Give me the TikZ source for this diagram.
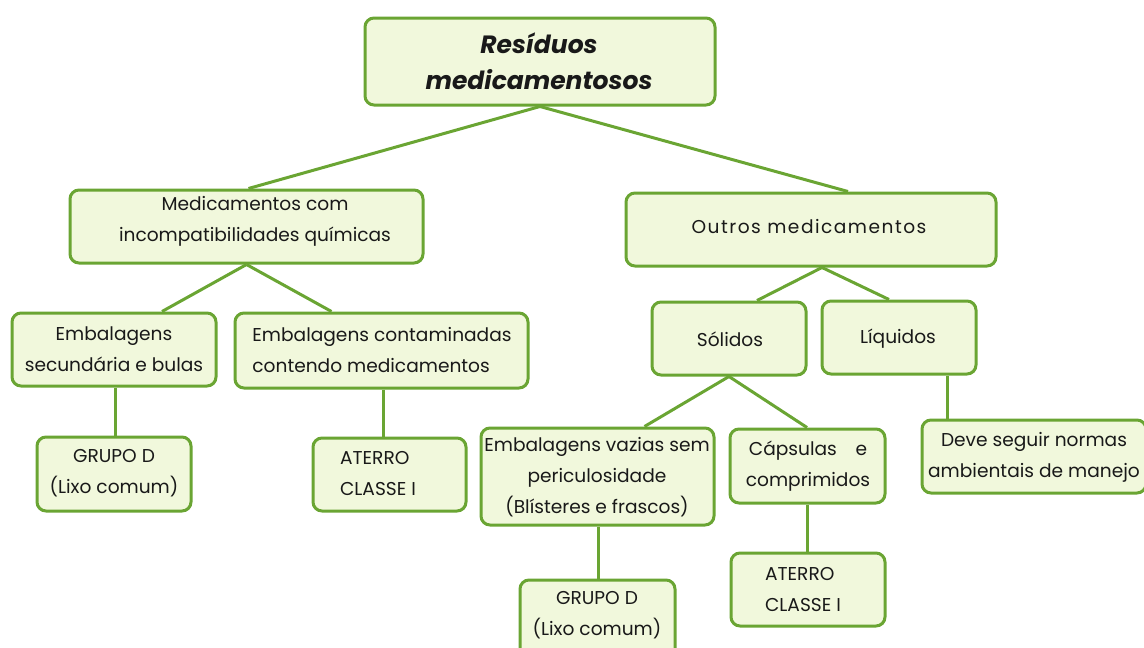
\documentclass[tikz,border=0pt]{standalone}
\usepackage{fontspec}
\setmainfont{Poppins}
\definecolor{boxfill}{HTML}{F1F8DC}
\definecolor{boxline}{HTML}{6AA533}
\begin{document}
\begin{tikzpicture}[x=1pt,y=-1pt,
  box/.style={draw=boxline, fill=boxfill, line width=3pt, rounded corners=9pt, inner sep=0pt},
  txt/.style={font=\fontsize{18.6}{31}\selectfont, align=center, text=black!90, inner sep=0pt},
  conn/.style={draw=boxline, line width=3pt}]
\useasboundingbox (0,0) rectangle (1144,648);
% boxes
\node[box, minimum width=350pt, minimum height=87pt] (root) at (540,61.5) {};
\node[box, minimum width=353pt, minimum height=73pt] (mci) at (246.5,226.5) {};
\node[box, minimum width=370pt, minimum height=73pt] (out) at (811,229.5) {};
\node[box, minimum width=204pt, minimum height=73pt] (esb) at (114,349.5) {};
\node[box, minimum width=293pt, minimum height=75pt] (ecm) at (381.5,350.5) {};
\node[box, minimum width=154pt, minimum height=73pt] (sol) at (729,338.5) {};
\node[box, minimum width=154pt, minimum height=73pt] (liq) at (899,337.5) {};
\node[box, minimum width=154pt, minimum height=74pt] (gd1) at (114,474) {};
\node[box, minimum width=153pt, minimum height=73pt] (at1) at (389.5,474.5) {};
\node[box, minimum width=233pt, minimum height=97pt] (evz) at (597.5,476.5) {};
\node[box, minimum width=155pt, minimum height=74pt] (cap) at (807.5,466) {};
\node[box, minimum width=224pt, minimum height=73pt] (dev) at (1034,456.5) {};
\node[box, minimum width=155pt, minimum height=80pt] (gd2) at (597.5,620) {};
\node[box, minimum width=154pt, minimum height=73pt] (at2) at (808,589.5) {};
% texts
\node[txt, font=\fontsize{25}{36}\selectfont\bfseries\itshape] at (539,61) {Resíduos\\medicamentosos};
\node[txt] at (255,221) {Medicamentos com\\incompatibilidades químicas};
\node[txt, font=\fontsize{18.6}{31}\selectfont\addfontfeatures{LetterSpace=8}] at (809,227) {Outros medicamentos};
\node[txt] at (114,349) {Embalagens\\secundária e bulas};
\node[txt, align=left] at (382,350) {Embalagens contaminadas\\contendo medicamentos};
\node[txt] at (730,339) {Sólidos};
\node[txt] at (898,339) {Líquidos};
\node[txt] at (114,473) {GRUPO D\\(Lixo comum)};
\node[txt, align=left] at (378,474) {ATERRO\\CLASSE I};
\node[txt] at (597,477) {Embalagens vazias sem\\periculosidade\\(Blísteres e frascos)};
\node[txt] at (808,466) {Cápsulas\quad e\\comprimidos};
\node[txt] at (1034,457) {Deve seguir normas\\ambientais de manejo};
\node[txt] at (597,615) {GRUPO D\\(Lixo comum)};
\node[txt, align=left] at (803,590) {ATERRO\\CLASSE I};
% connectors
\draw[conn] (root.south) -- ([xshift=2pt]mci.north);
\draw[conn] (root.south) -- ([xshift=37pt]out.north);
\draw[conn] (mci.south) -- ([xshift=48pt]esb.north);
\draw[conn] (mci.south) -- ([xshift=-50pt]ecm.north);
\draw[conn] ([xshift=11pt]out.south) -- ([xshift=28pt]sol.north);
\draw[conn] ([xshift=11pt]out.south) -- ([xshift=-10pt]liq.north);
\draw[conn] ([xshift=1pt]esb.south) -- ([xshift=1pt]gd1.north);
\draw[conn] ([xshift=1.5pt]ecm.south) -- ([xshift=-6.5pt]at1.north);
\draw[conn] (sol.south) -- ([xshift=47pt]evz.north);
\draw[conn] (sol.south) -- ([xshift=-0.5pt]cap.north);
\draw[conn] ([xshift=48pt]liq.south) -- ([xshift=-87pt]dev.north);
\draw[conn] ([xshift=0.5pt]evz.south) -- ([xshift=0.5pt]gd2.north);
\draw[conn] ([xshift=-0.5pt]cap.south) -- ([xshift=-1pt]at2.north);
\end{tikzpicture}
\end{document}
